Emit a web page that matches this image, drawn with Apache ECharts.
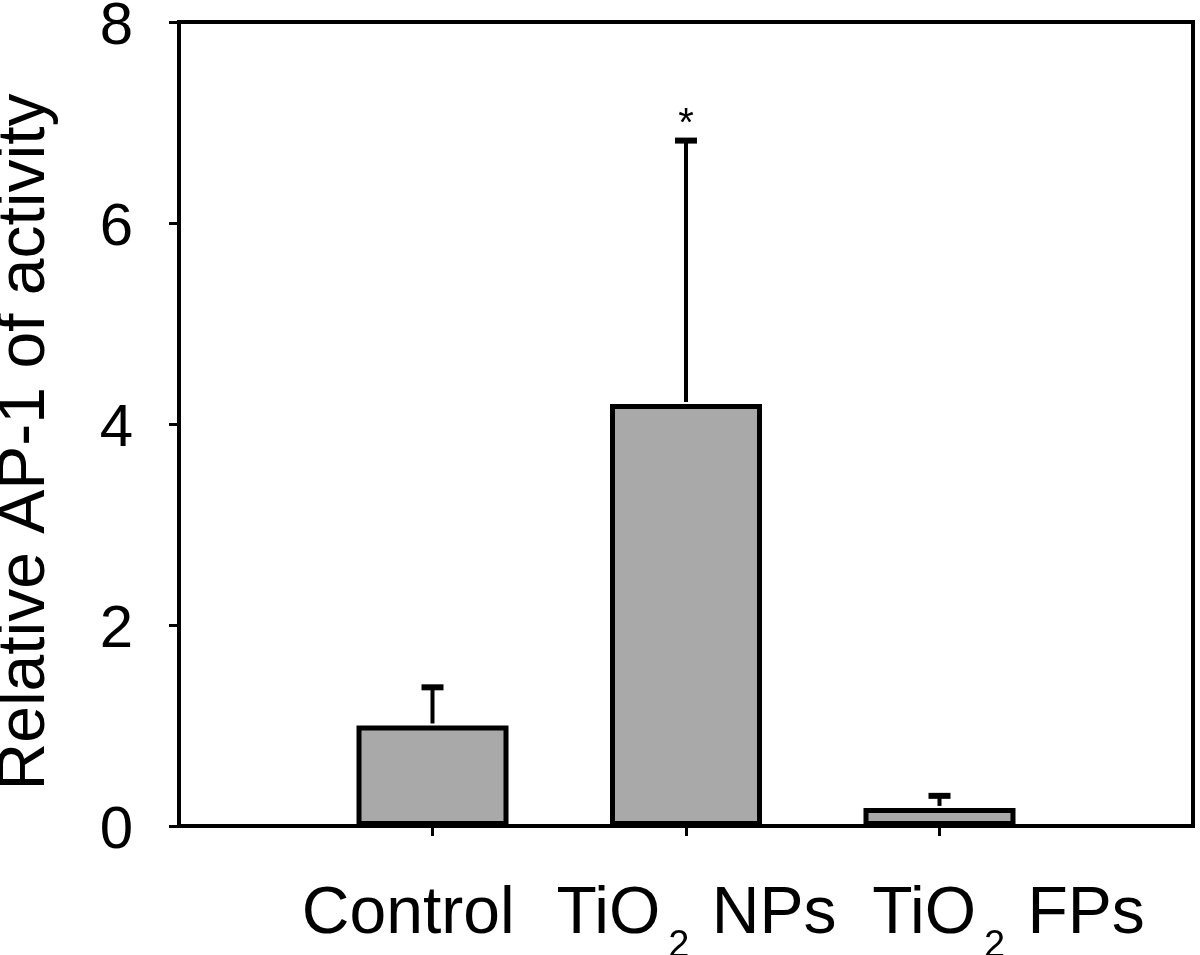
<!DOCTYPE html>
<html><head><meta charset="utf-8">
<script src="https://cdn.jsdelivr.net/npm/echarts@6/dist/echarts.min.js"></script>
<style>html,body{margin:0;padding:0;background:#fff}#c{width:1200px;height:955px}</style>
</head><body><div id="c"></div>
<script>
const categories = ['Control', 'TiO2 NPs', 'TiO2 FPs'];
const positions = [1, 2, 3];
const means = [1.0, 4.2, 0.18];
const errorTops = [1.38, 6.82, 0.30];
const significance = ['', '*', ''];
const yTicks = [0, 2, 4, 6, 8];

const labelRich = {
  1: '{nm|Control}{sb| }{pc|}',
  2: '{pn|}{nm|TiO}{sb|2}{nm| NPs}',
  3: '{pf|}{nm|TiO}{sb|2}{nm| FPs}'
};

const chart = echarts.init(document.getElementById('c'));
const fontFam = 'Liberation Sans, Arial, Helvetica, sans-serif';
const richStyles = {
  nm: { fontSize: 66, lineHeight: 70, fontFamily: fontFam, color: '#000' },
  sb: { fontSize: 38, lineHeight: 70, fontFamily: fontFam, color: '#000', padding: [64, 4, 0, 8] },
  pc: { width: 26 },
  pn: { width: 21 },
  pf: { width: 138 }
};
// one axis per category label so that the wide, shifted label boxes never get auto-hidden
const makeXAxis = (labelValues, withLine) => ({
  type: 'value', min: 0, max: 4, interval: 1, position: 'bottom', offset: 0,
  axisLine: { show: withLine, lineStyle: { color: '#000', width: 4 } },
  axisTick: { show: withLine, customValues: positions, length: 10, lineStyle: { color: '#000', width: 3 } },
  splitLine: { show: false },
  axisLabel: {
    customValues: labelValues,
    hideOverlap: false, showMinLabel: true, showMaxLabel: true,
    margin: 54, color: '#000', fontFamily: fontFam,
    formatter: v => labelRich[v] || '',
    rich: richStyles
  }
});
chart.setOption({
  animation: false,
  grid: { left: 179, right: 7, top: 22, bottom: 129, show: true, borderColor: '#000', borderWidth: 4, backgroundColor: 'transparent', outerBoundsMode: 'none', containLabel: false },
  xAxis: [makeXAxis([positions[0]], true), makeXAxis([positions[1]], false), makeXAxis([positions[2]], false)],
  yAxis: {
    type: 'value', min: 0, max: 8, interval: 2,
    name: 'Relative AP-1 of activity',
    nameLocation: 'middle', nameGap: 120,
    nameTextStyle: { fontSize: 66, color: '#000', fontFamily: fontFam, padding: [0, 36, 0, 0] },
    axisLine: { show: true, lineStyle: { color: '#000', width: 4 } },
    axisTick: { show: true, inside: false, length: 10, lineStyle: { color: '#000', width: 3 } },
    splitLine: { show: false },
    axisLabel: {
      color: '#000', fontFamily: fontFam, margin: 46,
      formatter: v => yTicks.includes(v) ? '{d|' + v + '}' : '',
      rich: { d: { fontSize: 60, color: '#000', fontFamily: fontFam, padding: [10, 0, 0, 0] } }
    }
  },
  series: [
    {
      type: 'bar',
      data: positions.map((p, i) => [p, means[i]]),
      barWidth: 152,
      itemStyle: { color: '#a9a9a9', borderColor: '#000', borderWidth: 5 },
      z: 2
    },
    {
      type: 'custom',
      data: positions.map((p, i) => [p, means[i], errorTops[i], i]),
      z: 3,
      renderItem: (params, api) => {
        const x = api.value(0);
        const base = api.coord([x, api.value(1)]);
        const top = api.coord([x, api.value(2)]);
        const sig = significance[api.value(3)];
        const children = [
          { type: 'line', shape: { x1: base[0], y1: base[1] - 2, x2: top[0], y2: top[1] }, style: { stroke: '#000', lineWidth: 4 } },
          { type: 'line', shape: { x1: top[0] - 11, y1: top[1], x2: top[0] + 11, y2: top[1] }, style: { stroke: '#000', lineWidth: 6 } }
        ];
        if (sig) {
          children.push({ type: 'text', style: { text: sig, x: top[0], y: top[1] + 4, align: 'center', verticalAlign: 'bottom', fontSize: 40, fontFamily: fontFam, fill: '#000' } });
        }
        return { type: 'group', children };
      }
    }
  ]
});
</script></body></html>
